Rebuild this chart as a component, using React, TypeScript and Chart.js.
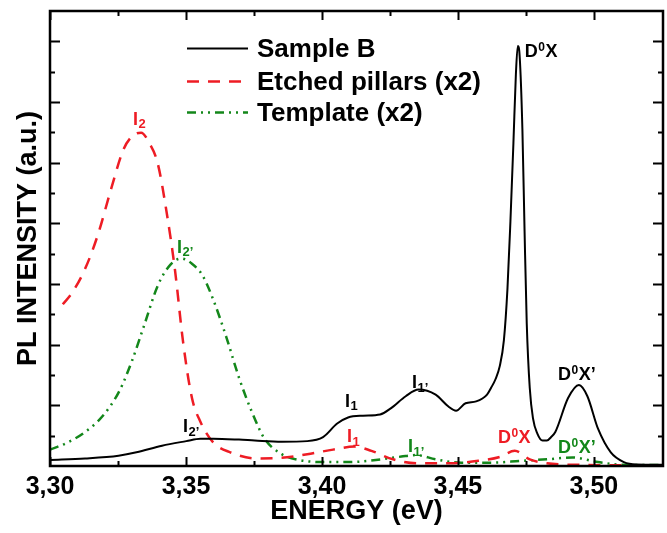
import React, { useEffect, useRef } from 'react';
import { Chart, registerables } from 'chart.js';

Chart.register(...registerables);

// ---- data ----
const sampleBEnergy = [
  3.3, 3.3129, 3.3252, 3.3318, 3.3412, 3.3501, 3.3553, 3.36, 3.3695, 3.3753,
  3.3852, 3.3946, 3.4004, 3.4056, 3.4096, 3.4151, 3.4214, 3.4253, 3.4308, 3.4355,
  3.4418, 3.4465, 3.4493, 3.4528, 3.4567, 3.4607, 3.4622, 3.4638, 3.4654, 3.4669,
  3.4682, 3.4693, 3.4704, 3.4713, 3.472, 3.4727, 3.4737, 3.4745, 3.4753, 3.4764,
  3.4776, 3.4792, 3.4811, 3.4827, 3.4842, 3.4858, 3.4905, 3.4945, 3.4976, 3.5015,
  3.5062, 3.511, 3.5157, 3.5254,
];
const sampleBIntensity = [
  0.2, 0.25, 0.34, 0.45, 0.67, 0.82, 0.9, 0.9, 0.87, 0.84,
  0.8, 0.82, 0.95, 1.4, 1.6, 1.66, 1.7, 1.9, 2.3, 2.52,
  2.35, 1.96, 1.82, 2.07, 2.13, 2.35, 2.58, 2.86, 3.3, 4.15,
  5.83, 8.07, 10.65, 12.9, 13.85, 13.5, 11.1, 7.74, 4.7, 2.58,
  1.57, 1.07, 0.84, 0.84, 0.95, 1.12, 2.24, 2.67, 2.3, 1.23,
  0.45, 0.13, 0.05, 0.04,
];

const pillarsEnergy = [
  3.3047, 3.3082, 3.3129, 3.3176, 3.3223, 3.327, 3.3302, 3.3335, 3.3365, 3.3396,
  3.3428, 3.3459, 3.349, 3.3522, 3.3553, 3.36, 3.3663, 3.3758, 3.3852, 3.3946,
  3.4041, 3.4119, 3.4182, 3.4261, 3.4355, 3.4465, 3.4575, 3.4654, 3.4709, 3.4764,
  3.4827, 3.4937, 3.5254,
];
const pillarsIntensity = [
  5.33, 5.72, 6.5, 7.62, 9.08, 10.43, 10.87, 10.99, 10.65, 9.98,
  8.41, 6.5, 4.04, 2.24, 1.46, 0.78, 0.45, 0.25, 0.27, 0.39,
  0.54, 0.64, 0.5, 0.22, 0.09, 0.09, 0.17, 0.3, 0.5, 0.22,
  0.09, 0.04, 0.02,
];

const templateEnergy = [
  3.3, 3.3066, 3.3129, 3.3192, 3.3255, 3.3302, 3.3349, 3.3396, 3.3443, 3.3483,
  3.3522, 3.3561, 3.36, 3.3648, 3.3695, 3.3742, 3.3789, 3.3852, 3.3915, 3.4009,
  3.4104, 3.4198, 3.4292, 3.4347, 3.4418, 3.4512, 3.4622, 3.4732, 3.4827, 3.4921,
  3.5015, 3.511, 3.5254,
];
const templateIntensity = [
  0.54, 0.78, 1.12, 1.63, 2.47, 3.48, 4.71, 5.94, 6.64, 6.84,
  6.67, 6.28, 5.49, 4.26, 2.91, 1.79, 0.9, 0.39, 0.2, 0.13,
  0.13, 0.2, 0.31, 0.36, 0.22, 0.11, 0.11, 0.17, 0.22, 0.28,
  0.13, 0.04, 0.03,
];

const seriesLabels = ['Sample B', 'Etched pillars (x2)', 'Template (x2)'];

const xMajorTicks = [3.3, 3.35, 3.4, 3.45, 3.5];
const xMajorLabels = ['3,30', '3,35', '3,40', '3,45', '3,50'];
const xMinorTicks = [3.325, 3.375, 3.425, 3.475];
const yTickValues = [1, 2, 3, 4, 5, 6, 7, 8, 9, 10, 11, 12, 13, 14];

// peak annotations: text parts, colour, anchor (energy, intensity)
const annotationParts = [
  [['I', 'n'], ['2', 'sub']],
  [['I', 'n'], ['2’', 'sub']],
  [['D', 'n'], ['0', 'sup'], ['X', 'n']],
  [['I', 'n'], ['1’', 'sub']],
  [['I', 'n'], ['1', 'sub']],
  [['D', 'n'], ['0', 'sup'], ['X’', 'n']],
  [['I', 'n'], ['1', 'sub']],
  [['I', 'n'], ['1’', 'sub']],
  [['D', 'n'], ['0', 'sup'], ['X', 'n']],
  [['D', 'n'], ['0', 'sup'], ['X’', 'n']],
  [['I', 'n'], ['2’', 'sub']],
];
const annotationSeries = [1, 2, 0, 0, 0, 0, 1, 2, 1, 2, 0];
const annotationEnergy = [3.3305, 3.3467, 3.4746, 3.4331, 3.4085, 3.4868, 3.4092, 3.4316, 3.4647, 3.4868, 3.3489];
const annotationIntensity = [11.25, 7.03, 13.47, 2.57, 1.95, 2.84, 0.79, 0.46, 0.76, 0.43, 1.12];

const seriesColors = ['#000000', '#ee1c24', '#13871a'];
const seriesDash = [[], [12, 9], [9, 5, 2, 5, 2, 5]];
const seriesWidth = [2, 2.5, 2.5];

const FONT = '"Liberation Sans", Arial, sans-serif';

const framePlugin = {
  id: 'frameTicksLegendNotes',
  afterDatasetsDraw(chart: any) {
    const { ctx, chartArea } = chart;
    const { left, right, top, bottom } = chartArea;
    const xs = chart.scales.x;
    const ys = chart.scales.y;
    ctx.save();
    // frame
    ctx.strokeStyle = '#000';
    ctx.lineWidth = 2.5;
    ctx.setLineDash([]);
    ctx.strokeRect(left, top, right - left, bottom - top);
    // ticks (inward, all four sides)
    ctx.lineWidth = 2;
    ctx.beginPath();
    const xt = [...xMajorTicks.map((v) => [v, 9]), ...xMinorTicks.map((v) => [v, 5])];
    xt.forEach(([v, len]) => {
      const px = Math.round(xs.getPixelForValue(v)) + 0.5;
      ctx.moveTo(px, bottom);
      ctx.lineTo(px, bottom - len);
      ctx.moveTo(px, top);
      ctx.lineTo(px, top + len);
    });
    yTickValues.forEach((v) => {
      const len = v % 2 === 0 ? 10 : 5;
      const py = Math.round(ys.getPixelForValue(v)) + 0.5;
      ctx.moveTo(left, py);
      ctx.lineTo(left + len, py);
      ctx.moveTo(right, py);
      ctx.lineTo(right - len, py);
    });
    ctx.stroke();

    // legend
    const baselines = [46, 78.9, 110];
    chart.data.datasets.forEach((ds: any, i: number) => {
      const by = top + baselines[i];
      const ly = by - 8.5;
      ctx.beginPath();
      ctx.strokeStyle = ds.borderColor;
      ctx.lineWidth = ds.borderWidth;
      ctx.setLineDash(ds.borderDash || []);
      ctx.moveTo(left + 137, ly);
      ctx.lineTo(left + 198, ly);
      ctx.stroke();
      ctx.setLineDash([]);
      ctx.fillStyle = '#000';
      ctx.font = `bold 26px ${FONT}`;
      ctx.textBaseline = 'alphabetic';
      ctx.textAlign = 'left';
      ctx.fillText(ds.label, left + 207, by);
    });

    // annotations
    annotationParts.forEach((parts, i) => {
      let px = xs.getPixelForValue(annotationEnergy[i]);
      const py = ys.getPixelForValue(annotationIntensity[i]);
      ctx.fillStyle = seriesColors[annotationSeries[i]];
      ctx.textBaseline = 'alphabetic';
      ctx.textAlign = 'left';
      parts.forEach(([t, kind]) => {
        let size = 18;
        let dy = 0;
        if (kind === 'sub') { size = 13; dy = 3.5; }
        if (kind === 'sup') { size = 12; dy = -6; }
        ctx.font = `bold ${size}px ${FONT}`;
        ctx.fillText(t, px, py + dy);
        px += ctx.measureText(t).width + (kind === 'n' ? 0.5 : 0.5);
      });
    });
    ctx.restore();
  },
};

export default function App() {
  const canvasRef = useRef<HTMLCanvasElement | null>(null);

  useEffect(() => {
    document.body.style.margin = '0';
    const canvas = canvasRef.current;
    if (!canvas) return;
    const energies = [sampleBEnergy, pillarsEnergy, templateEnergy];
    const intensities = [sampleBIntensity, pillarsIntensity, templateIntensity];
    const chart = new Chart(canvas, {
      type: 'line',
      data: {
        datasets: seriesLabels.map((label, i) => ({
          label,
          data: energies[i].map((x, k) => ({ x, y: intensities[i][k] })),
          borderColor: seriesColors[i],
          borderWidth: seriesWidth[i],
          borderDash: seriesDash[i],
          pointRadius: 0,
          fill: false,
          cubicInterpolationMode: 'monotone',
        })),
      },
      options: {
        animation: false,
        responsive: false,
        devicePixelRatio: 1,
        layout: { padding: { top: 11, right: 4, left: 0, bottom: 0 } },
        plugins: { legend: { display: false }, tooltip: { enabled: false } },
        scales: {
          x: {
            type: 'linear',
            min: 3.3,
            max: 3.5254,
            grid: { display: false, drawTicks: false, tickLength: 0 },
            border: { display: false },
            afterBuildTicks: (s: any) => {
              s.ticks = [...xMajorTicks, ...xMinorTicks].sort((a, b) => a - b).map((v) => ({ value: v }));
            },
            ticks: {
              autoSkip: false,
              maxRotation: 0,
              padding: 6,
              color: '#000',
              font: { family: FONT, size: 25, weight: 'bold' },
              callback: (v: any) => {
                const i = xMajorTicks.findIndex((m) => Math.abs(m - Number(v)) < 1e-6);
                return i >= 0 ? xMajorLabels[i] : '';
              },
            },
            title: {
              display: true,
              text: 'ENERGY (eV)',
              color: '#000',
              font: { family: FONT, size: 27, weight: 'bold' },
              padding: { top: 0, bottom: 5 },
            },
            afterFit: (s: any) => { s.height = 67; },
          },
          y: {
            type: 'linear',
            min: 0,
            max: 15,
            grid: { display: false, drawTicks: false, tickLength: 0 },
            border: { display: false },
            ticks: { display: false },
            title: {
              display: true,
              text: 'PL INTENSITY (a.u.)',
              color: '#000',
              font: { family: FONT, size: 27, weight: 'bold' },
              padding: { top: 12, bottom: 0 },
            },
            afterFit: (s: any) => { s.width = 50; },
          },
        },
      } as any,
      plugins: [framePlugin],
    });
    return () => chart.destroy();
  }, []);

  return (
    <div style={{ width: 667, height: 533, background: '#fff' }}>
      <canvas ref={canvasRef} width={667} height={533} style={{ display: 'block' }} />
    </div>
  );
}
